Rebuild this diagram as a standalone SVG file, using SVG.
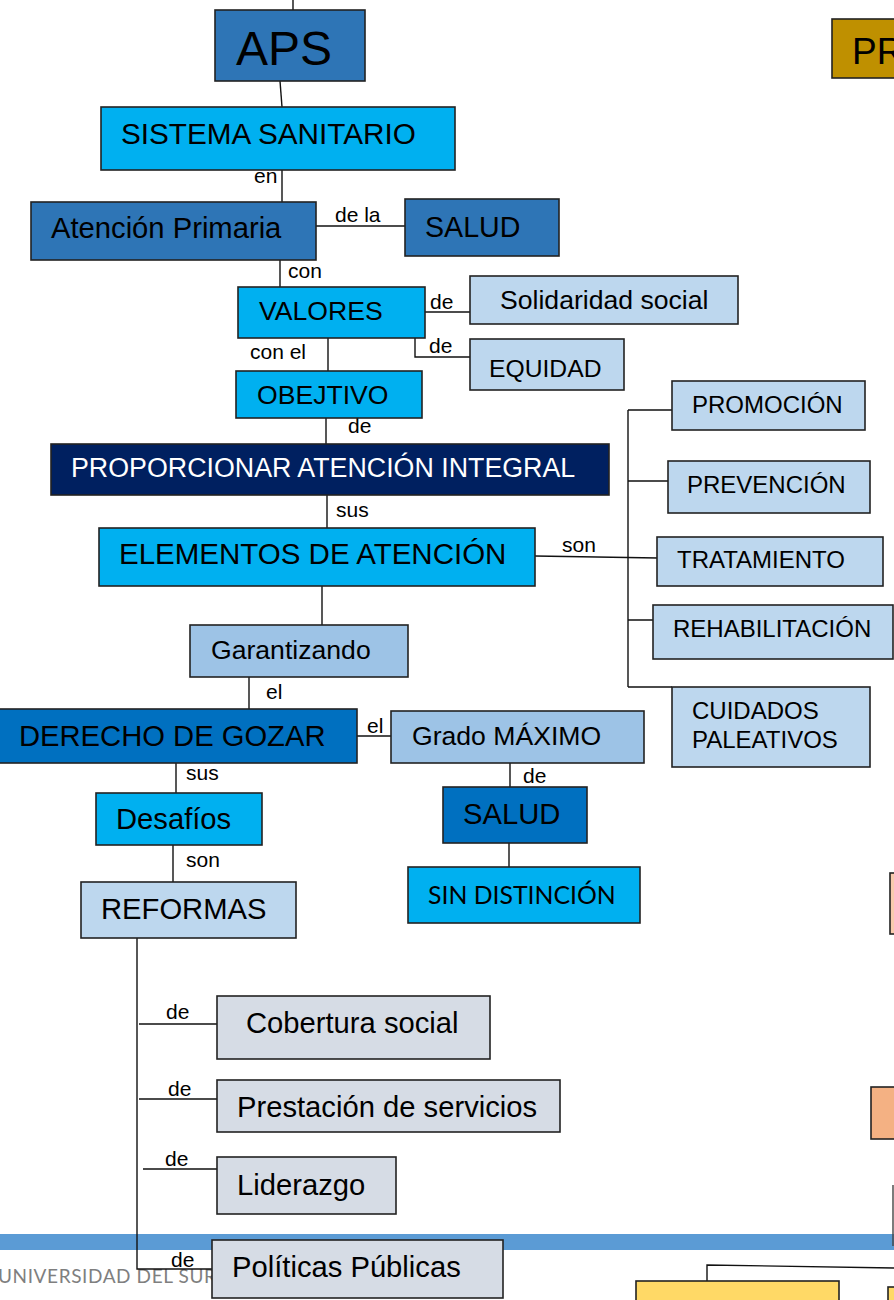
<svg xmlns="http://www.w3.org/2000/svg" width="894" height="1300" viewBox="0 0 894 1300">
<style>
.b{stroke:#222;stroke-width:1.6}
.c1{fill:#2E75B6}.c2{fill:#00B0F0}.c3{fill:#BDD7EE}.c4{fill:#9DC3E6}.c5{fill:#0070C0}.c6{fill:#002060}.c7{fill:#D6DCE5}
.c8{fill:#BF9000}.c9{fill:#F8CBAD}.c10{fill:#F4B183}.c11{fill:#FFD966}
text{font-family:"Liberation Sans",Arial,sans-serif;fill:#000}
.t29{font-size:29.2px}.t26{font-size:26.6px}.t24{font-size:24px}.lbl{font-size:21px}
.w{fill:#fff}
.cal{font-family:Lato,"Open Sans",sans-serif}
.ln{stroke:#111;stroke-width:1.4;fill:none}
</style>
<rect width="894" height="1300" fill="#fff"/>
<g id="footer">
<rect x="0" y="1234" width="894" height="16" fill="#5B9BD5"/>
<text x="-2" y="1283" class="cal" style="font-size:19px;fill:#7F7F7F;letter-spacing:0.6px">UNIVERSIDAD DEL SUR</text>
</g>
<g id="connectors" class="ln">
<path d="M293,0V10"/>
<path d="M280,81L282,107"/>
<path d="M282,170V202"/>
<path d="M316,226H405"/>
<path d="M280,260V287"/>
<path d="M425,312H470"/>
<path d="M415,338V357H470"/>
<path d="M328,338V371"/>
<path d="M326,418V444"/>
<path d="M327,495V528"/>
<path d="M535,556L658,558"/>
<path d="M628,410V687"/>
<path d="M628,410H672M628,481H668M628,620H653M628,687H672"/>
<path d="M322,586V625"/>
<path d="M249,677V709"/>
<path d="M357,736H391"/>
<path d="M510,763V787"/>
<path d="M509,843V867"/>
<path d="M176,763V793"/>
<path d="M173,845V882"/>
<path d="M137,938V1269H212"/>
<path d="M139,1024H217M139,1099H217M143,1169H217"/>
<path d="M893,1185V1246" stroke="#444"/>
<path d="M707,1281V1265L894,1268"/>
<g stroke="none">
<text x="254" y="183" class="lbl">en</text>
<text x="335" y="222" class="lbl">de la</text>
<text x="288" y="278" class="lbl">con</text>
<text x="430" y="309" class="lbl">de</text>
<text x="429" y="353" class="lbl">de</text>
<text x="250" y="359" class="lbl">con el</text>
<text x="348" y="433" class="lbl">de</text>
<text x="336" y="517" class="lbl">sus</text>
<text x="562" y="552" class="lbl">son</text>
<text x="266" y="699" class="lbl">el</text>
<text x="367" y="733" class="lbl">el</text>
<text x="523" y="783" class="lbl">de</text>
<text x="186" y="780" class="lbl">sus</text>
<text x="186" y="867" class="lbl">son</text>
<text x="166" y="1019" class="lbl">de</text>
<text x="168" y="1096" class="lbl">de</text>
<text x="165" y="1166" class="lbl">de</text>
<text x="171" y="1267" class="lbl">de</text>
</g>
</g>
<g id="aps"><rect x="215" y="10" width="150" height="71" class="b c1"/><text x="236" y="65" style="font-size:48px">APS</text></g>
<g id="pr"><rect x="832" y="19" width="70" height="59" class="b c8"/><text x="852" y="64" style="font-size:37px">PR</text></g>
<g id="sistema"><rect x="101" y="107" width="354" height="63" class="b c2"/><text x="121" y="144" style="font-size:29.7px">SISTEMA SANITARIO</text></g>
<g id="atencion"><rect x="31" y="202" width="285" height="58" class="b c1"/><text x="51" y="238" class="t29">Atención Primaria</text></g>
<g id="salud1"><rect x="405" y="199" width="154" height="57" class="b c1"/><text x="425" y="237" style="font-size:28.6px">SALUD</text></g>
<g id="valores"><rect x="238" y="287" width="187" height="51" class="b c2"/><text x="259" y="320" class="t26">VALORES</text></g>
<g id="solidaridad"><rect x="470" y="276" width="268" height="48" class="b c3"/><text x="500" y="309" class="t26">Solidaridad social</text></g>
<g id="equidad"><rect x="470" y="339" width="154" height="51" class="b c3"/><text x="489" y="377" style="font-size:24.7px">EQUIDAD</text></g>
<g id="objetivo"><rect x="236" y="371" width="186" height="47" class="b c2"/><text x="257" y="404" class="t26">OBEJTIVO</text></g>
<g id="proporcionar"><rect x="51" y="444" width="558" height="51" class="b c6"/><text x="71" y="477" class="w" style="font-size:26.8px">PROPORCIONAR ATENCIÓN INTEGRAL</text></g>
<g id="elementos"><rect x="99" y="528" width="436" height="58" class="b c2"/><text x="119" y="564" style="font-size:29.5px">ELEMENTOS DE ATENCIÓN</text></g>
<g id="promocion"><rect x="672" y="381" width="193" height="49" class="b c3"/><text x="692" y="413" class="t24">PROMOCIÓN</text></g>
<g id="prevencion"><rect x="668" y="461" width="202" height="52" class="b c3"/><text x="687" y="493" class="t24">PREVENCIÓN</text></g>
<g id="tratamiento"><rect x="657" y="537" width="226" height="49" class="b c3"/><text x="677" y="568" class="t24">TRATAMIENTO</text></g>
<g id="rehabilitacion"><rect x="653" y="605" width="240" height="54" class="b c3"/><text x="673" y="637" class="t24">REHABILITACIÓN</text></g>
<g id="cuidados"><rect x="672" y="687" width="198" height="80" class="b c3"/><text x="692" y="719" class="t24">CUIDADOS</text><text x="692" y="748" class="t24">PALEATIVOS</text></g>
<g id="garantizando"><rect x="190" y="625" width="218" height="52" class="b c4"/><text x="211" y="659" class="t26">Garantizando</text></g>
<g id="derecho"><rect x="-2" y="709" width="359" height="54" class="b c5"/><text x="19" y="746" class="t29">DERECHO DE GOZAR</text></g>
<g id="grado"><rect x="391" y="711" width="253" height="52" class="b c4"/><text x="412" y="745" class="t26">Grado MÁXIMO</text></g>
<g id="salud2"><rect x="443" y="787" width="144" height="56" class="b c5"/><text x="463" y="824" class="t29">SALUD</text></g>
<g id="sindistincion"><rect x="408" y="867" width="232" height="56" class="b c2"/><text x="428" y="904" class="cal" style="font-size:24.8px">SIN DISTINCIÓN</text></g>
<g id="desafios"><rect x="96" y="793" width="166" height="52" class="b c2"/><text x="116" y="829" class="t29">Desafíos</text></g>
<g id="reformas"><rect x="81" y="882" width="215" height="56" class="b c3"/><text x="101" y="919" class="t29">REFORMAS</text></g>
<g id="cobertura"><rect x="217" y="996" width="273" height="63" class="b c7"/><text x="246" y="1033" class="t29">Cobertura social</text></g>
<g id="prestacion"><rect x="217" y="1080" width="343" height="52" class="b c7"/><text x="237" y="1117" class="t29">Prestación de servicios</text></g>
<g id="liderazgo"><rect x="217" y="1157" width="179" height="57" class="b c7"/><text x="237" y="1195" class="t29">Liderazgo</text></g>
<g id="politicas"><rect x="212" y="1240" width="291" height="58" class="b c7"/><text x="232" y="1277" class="t29">Políticas Públicas</text></g>
<g id="peach1"><rect x="890" y="873" width="20" height="61" class="b c9"/></g>
<g id="peach2"><rect x="871" y="1087" width="40" height="52" class="b c10"/></g>
<g id="gold1"><rect x="636" y="1281" width="203" height="30" class="b c11"/></g>
<g id="gold2"><rect x="888" y="1287" width="20" height="30" class="b c11"/></g>
</svg>
